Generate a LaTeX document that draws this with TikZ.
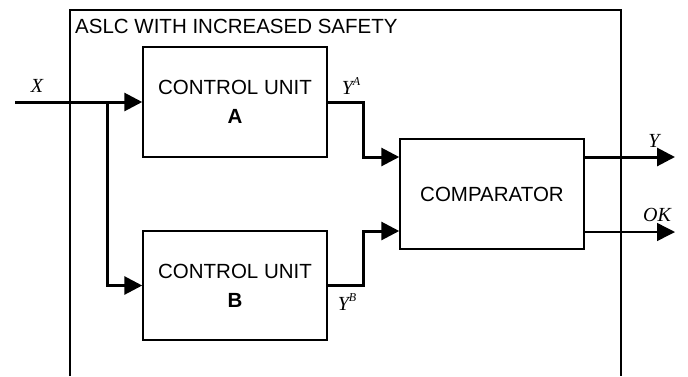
\documentclass[tikz,border=0pt]{standalone}
\usepackage{fontspec}
\setmainfont{Liberation Sans}
\newfontfamily\signalfont{Liberation Serif}
\usetikzlibrary{arrows.meta,positioning}
\newcommand{\sigsup}[2]{#1\raisebox{0.42em}{\fontsize{12}{12}\selectfont #2}}

\begin{document}
\begin{tikzpicture}[x=1pt,y=-1pt,
    block/.style={draw, line width=1.5pt, minimum width=184pt, minimum height=110pt,
      align=center, inner sep=0pt, font=\fontsize{20.5}{29}\selectfont},
    sigline/.style={line width=3pt, -{Triangle[length=18pt,width=18pt]}},
    thinline/.style={line width=1.4pt, -{Triangle[length=18pt,width=18pt]}},
    lbl/.style={inner sep=0pt, font=\fontsize{20}{20}\selectfont\signalfont\itshape}]
    \useasboundingbox (0,0) rectangle (688,376);

    % frame, open at the bottom
    \draw[line width=1.5pt] (70,376) -- (70,10) -- (621,10) -- (621,376);
    \node[anchor=base west, inner sep=0pt, font=\fontsize{20.5}{24}\selectfont]
      (title) at (75,33) {ASLC WITH INCREASED SAFETY};

    \node[block] (unitA) at (235,102) {CONTROL UNIT\\ \textbf{A}};
    \node[block, minimum height=109pt] (unitB) at (235,285.5) {CONTROL UNIT\\ \textbf{B}};
    \node[block] (cmp) at (492,194) {COMPARATOR};

    \coordinate (xin) at (15,102);
    \coordinate (split) at (107,102);
    \coordinate (yout) at (675,157);
    \coordinate (okout) at (675,232);

    \draw[sigline] (xin) -- (unitA.west);
    \draw[sigline] (split) |- (unitB.west);
    \draw[sigline] (unitA.east) -- ++(36,0) |- ([yshift=37pt]cmp.west);
    \draw[sigline] (unitB.east) -- ++(36,0) |- ([yshift=-37pt]cmp.west);
    \draw[sigline] ([yshift=37pt]cmp.east) -- (yout);
    \draw[thinline] ([yshift=-38pt]cmp.east) -- (okout);

    \node[lbl] (xlab) at (37,86) {X};
    \node[lbl] (yalab) at (351,86) {\sigsup{Y}{A}};
    \node[lbl] (yblab) at (347,302) {\sigsup{Y}{B}};
    \node[lbl] (ylab) at (654,141) {Y};
    \node[lbl] (oklab) at (657,215) {OK};
\end{tikzpicture}
\end{document}
